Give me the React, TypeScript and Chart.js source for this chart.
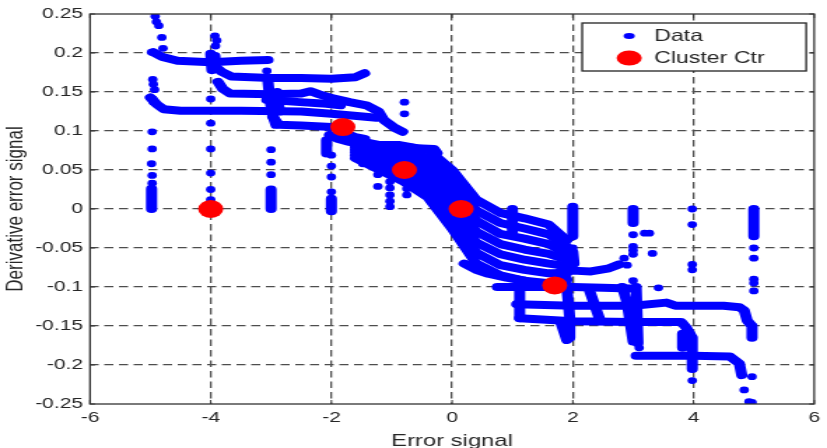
import React, { useEffect, useRef } from 'react';
import { Chart, registerables } from 'chart.js';

Chart.register(...registerables);

// The reference image is horizontally stretched; the chart is drawn at BASE_W and scaled to 827.
const PAGE_W = 827;
const PAGE_H = 448;
const BASE_W = 591;
const STRETCH = PAGE_W / BASE_W;

const xTickValues = [-6, -4, -2, 0, 2, 4, 6];
const xTickLabels = ['-6', '-4', '-2', '0', '2', '4', '6'];
const yTickValues = [-0.25, -0.2, -0.15, -0.1, -0.05, 0, 0.05, 0.1, 0.15, 0.2, 0.25];
const yTickLabels = ['-0.25', '-0.2', '-0.15', '-0.1', '-0.05', '0', '0.05', '0.1', '0.15', '0.2', '0.25'];

// Cluster centres
const clusterX = [-4.0, -1.81, -0.79, 0.15, 1.7];
const clusterY = [0.0, 0.105, 0.05, 0.0, -0.098];

type P = [number, number];

// Isolated data points
const isolatedDots: P[] = [
  [-4.92, 0.247], [-4.9, 0.24], [-4.86, 0.235], [-4.81, 0.22], [-4.79, 0.206], [-4.98, 0.201],
  [-4.96, 0.166], [-4.95, 0.16], [-4.93, 0.153], [-4.96, 0.141], [-4.95, 0.137],
  [-4.97, 0.099], [-4.97, 0.077], [-4.98, 0.058], [-4.97, 0.043], [-4.97, 0.033],
  [-3.93, 0.222], [-3.9, 0.216], [-3.92, 0.209], [-4.0, 0.141], [-4.0, 0.11], [-4.0, 0.077],
  [-4.0, 0.046], [-4.0, 0.025], [-4.0, 0.012],
  [-3.07, 0.177], [-3.0, 0.076], [-3.0, 0.06], [-3.0, 0.044],
  [-2.0, 0.069], [-2.0, 0.055], [-2.0, 0.041], [-2.0, 0.022],
  [-1.48, 0.069], [-1.48, 0.058], [-1.23, 0.044], [-1.23, 0.029],
  [-1.03, 0.035], [-1.03, 0.027], [-1.03, 0.018], [-1.03, 0.01], [-1.03, 0.003],
  [-0.75, 0.026], [-0.75, 0.018], [-0.79, 0.137], [-0.79, 0.122],
  [2.0, -0.05], [2.0, -0.058],
  [3.0, -0.033], [3.19, -0.031], [3.27, -0.031], [3.0, -0.048], [3.0, -0.053], [3.0, -0.058],
  [3.32, -0.057], [2.85, -0.063], [2.9, -0.072], [3.0, -0.092], [3.42, -0.101],
  [3.98, 0.0], [3.98, -0.02], [3.98, -0.071], [3.98, -0.078], [3.98, -0.22],
  [5.0, -0.05], [5.0, -0.063], [5.0, -0.09], [5.0, -0.095], [5.0, -0.105],
  [4.84, -0.232], [4.92, -0.247], [4.97, -0.215], [4.97, -0.248], [3.1, -0.178],
];

// Dense runs of points in the upper-left group
const upperRuns: P[][] = [
  [[-4.95, 0.201], [-4.8, 0.195], [-4.55, 0.19], [-4.0, 0.188], [-3.5, 0.19], [-3.05, 0.191]],
  [[-4.0, 0.199], [-3.98, 0.178]],
  [[-3.93, 0.196], [-3.92, 0.182]],
  [[-3.95, 0.184], [-3.82, 0.176], [-3.66, 0.17], [-3.0, 0.168], [-2.5, 0.168], [-2.0, 0.167], [-1.6, 0.169], [-1.45, 0.174]],
  [[-3.88, 0.163], [-3.8, 0.154], [-3.68, 0.148], [-3.0, 0.147], [-2.5, 0.148], [-2.35, 0.151], [-2.2, 0.147], [-2.03, 0.143], [-1.7, 0.137], [-1.42, 0.133], [-1.22, 0.125], [-1.13, 0.114], [-0.95, 0.104], [-0.82, 0.099]],
  [[-3.07, 0.14], [-2.52, 0.137], [-2.08, 0.135], [-1.85, 0.133]],
  [[-5.0, 0.143], [-4.89, 0.134], [-4.78, 0.128], [-4.5, 0.126], [-3.5, 0.126], [-2.5, 0.125], [-2.0, 0.122], [-1.53, 0.119], [-1.25, 0.117]],
  [[-2.97, 0.118], [-2.87, 0.108], [-2.5, 0.107], [-2.0, 0.105], [-1.75, 0.105]],
  [[-3.05, 0.163], [-3.02, 0.14], [-2.97, 0.12], [-2.92, 0.108]],
  [[-2.9, 0.15], [-2.86, 0.125]],
  [[-2.03, 0.095], [-1.9, 0.09], [-1.7, 0.086], [-1.42, 0.082], [-0.87, 0.082], [-0.59, 0.078], [-0.3, 0.077], [-0.25, 0.072]],
  [[-2.08, 0.088], [-2.08, 0.071]],
  [[-1.8, 0.098], [-1.6, 0.092], [-1.45, 0.09]],
];

// Dense diagonal band through the middle (runs from its upper to its lower edge)
const bandRuns: P[][] = [
  [[-1.6, 0.088], [-1.2, 0.082], [-0.8, 0.08], [-0.4, 0.076], [0.0, 0.05], [0.4, 0.012], [0.8, -0.005], [1.2, -0.012], [1.6, -0.02], [1.9, -0.04]],
  [[-1.6, 0.084], [-1.2, 0.0765], [-0.8, 0.0725], [-0.4, 0.066], [0.0, 0.0375], [0.4, -0.002], [0.8, -0.018], [1.2, -0.025], [1.6, -0.0325], [1.9, -0.048]],
  [[-1.6, 0.08], [-1.2, 0.071], [-0.8, 0.065], [-0.4, 0.056], [0.0, 0.025], [0.4, -0.015], [0.8, -0.032], [1.2, -0.038], [1.6, -0.045], [1.9, -0.057]],
  [[-1.6, 0.0765], [-1.2, 0.066], [-0.8, 0.0575], [-0.4, 0.0455], [0.0, 0.0125], [0.4, -0.029], [0.8, -0.045], [1.2, -0.052], [1.6, -0.0575], [1.9, -0.065]],
  [[-1.6, 0.073], [-1.2, 0.0605], [-0.8, 0.05], [-0.4, 0.035], [0.0, 0.0], [0.4, -0.043], [0.8, -0.058], [1.2, -0.065], [1.6, -0.07], [1.9, -0.073]],
  [[-1.6, 0.069], [-1.2, 0.055], [-0.8, 0.0425], [-0.4, 0.025], [0.0, -0.0125], [0.4, -0.056], [0.8, -0.072], [1.2, -0.078], [1.6, -0.0825], [1.9, -0.082]],
  [[-1.6, 0.065], [-1.2, 0.05], [-0.8, 0.035], [-0.4, 0.015], [0.0, -0.025], [0.4, -0.07], [0.8, -0.085], [1.2, -0.092], [1.6, -0.095], [1.9, -0.09]],
  [[0.2, -0.07], [0.4, -0.078], [0.6, -0.083], [0.9, -0.088], [1.2, -0.092]],
];

// Runs in the lower-right group
const lowerRuns: P[][] = [
  [[0.75, -0.1], [1.5, -0.1], [2.0, -0.1], [2.5, -0.101], [2.95, -0.102]],
  [[1.07, -0.122], [2.0, -0.124], [3.0, -0.124], [3.55, -0.12], [3.7, -0.124], [4.5, -0.124], [4.76, -0.126], [4.84, -0.13], [4.89, -0.143], [4.97, -0.15], [4.97, -0.165]],
  [[1.12, -0.14], [2.0, -0.144], [3.0, -0.145], [3.8, -0.145], [3.88, -0.152], [3.98, -0.165], [3.98, -0.205]],
  [[3.82, -0.16], [3.82, -0.178]],
  [[3.05, -0.188], [3.5, -0.188], [4.0, -0.188], [4.6, -0.189], [4.76, -0.198], [4.8, -0.213]],
  [[1.12, -0.1], [1.12, -0.14]],
  [[1.88, -0.085], [1.9, -0.1], [1.95, -0.14], [1.95, -0.165]],
  [[1.8, -0.145], [1.9, -0.168]],
  [[2.28, -0.105], [2.44, -0.14]],
  [[2.82, -0.1], [2.9, -0.12], [2.95, -0.145], [3.0, -0.17]],
  [[3.05, -0.1], [3.08, -0.172]],
  [[1.8, -0.08], [2.0, -0.079], [2.3, -0.08], [2.6, -0.076], [2.77, -0.071]],
];

// Vertical runs at constant error values
const columnRuns: P[][] = [
  [[-4.98, 0.026], [-4.98, 0.0]],
  [[-3.0, 0.025], [-3.0, 0.0]],
  [[-2.0, 0.013], [-2.0, -0.003]],
  [[1.0, 0.0], [1.0, -0.03]],
  [[2.0, 0.003], [2.0, -0.035]],
  [[2.0, -0.055], [2.02, -0.07]],
  [[3.0, 0.0], [3.0, -0.018]],
  [[5.0, 0.0], [5.0, -0.035]],
];

const BLUE = '#0000ff';
const RED = '#ff0000';
const TEXT = '#262626';
const GRID = '#4d4d4d';

const toPts = (arr: P[]) => arr.map(([x, y]) => ({ x, y }));

const boxPlugin = {
  id: 'matlabBox',
  afterDraw(chart: any) {
    const { ctx, chartArea } = chart;
    const { left, right, top, bottom } = chartArea;
    const xs = chart.scales.x;
    const ys = chart.scales.y;
    ctx.save();
    ctx.setLineDash([]);
    ctx.strokeStyle = '#333';
    ctx.lineWidth = 1.3;
    ctx.strokeRect(left, top, right - left, bottom - top);
    ctx.lineWidth = 1;
    ctx.beginPath();
    xTickValues.forEach((v) => {
      const px = xs.getPixelForValue(v);
      ctx.moveTo(px, bottom); ctx.lineTo(px, bottom - 4);
      ctx.moveTo(px, top); ctx.lineTo(px, top + 4);
    });
    yTickValues.forEach((v) => {
      const py = ys.getPixelForValue(v);
      ctx.moveTo(left, py); ctx.lineTo(left + 3.5, py);
      ctx.moveTo(right, py); ctx.lineTo(right - 3.5, py);
    });
    ctx.stroke();

    // legend box
    const lx0 = right - 165.8;
    const lx1 = right - 5.7;
    const ly0 = top + 9;
    const ly1 = top + 57;
    ctx.fillStyle = '#ffffff';
    ctx.fillRect(lx0, ly0, lx1 - lx0, ly1 - ly0);
    ctx.strokeStyle = '#222';
    ctx.lineWidth = 1.3;
    ctx.strokeRect(lx0, ly0, lx1 - lx0, ly1 - ly0);
    const mx = lx0 + 33.6;
    const tx = lx0 + 51.5;
    const r1 = ly0 + 13;
    const r2 = ly0 + 35;
    ctx.fillStyle = BLUE;
    ctx.beginPath(); ctx.ellipse(mx, r1, 4, 3, 0, 0, Math.PI * 2); ctx.fill();
    ctx.fillStyle = RED;
    ctx.beginPath(); ctx.ellipse(mx, r2, 9, 7.5, 0, 0, Math.PI * 2); ctx.fill();
    ctx.fillStyle = TEXT;
    ctx.font = "16.5px 'Liberation Sans', Arial, sans-serif";
    ctx.textAlign = 'left';
    ctx.textBaseline = 'middle';
    ctx.fillText(chart.data.datasets[1].label, tx, r1);
    ctx.fillText(chart.data.datasets[0].label, tx, r2);
    ctx.restore();
  },
};

export default function App() {
  const ref = useRef<HTMLCanvasElement | null>(null);

  useEffect(() => {
    if (!ref.current) return;
    Chart.defaults.font.family = "'Liberation Sans', Arial, sans-serif";
    const runs = [...upperRuns, ...bandRuns, ...lowerRuns, ...columnRuns];
    const gridColor = (c: any) =>
      c.index === 0 || c.index === (c.scale?.ticks?.length ?? 0) - 1 ? 'rgba(0,0,0,0)' : GRID;
    const chart = new Chart(ref.current, {
      type: 'scatter',
      data: {
        datasets: [
          {
            label: 'Cluster Ctr',
            data: clusterX.map((x, i) => ({ x, y: clusterY[i] })),
            pointRadius: 9,
            pointHoverRadius: 9,
            backgroundColor: RED,
            borderWidth: 0,
            order: 0,
          } as any,
          {
            label: 'Data',
            data: toPts(isolatedDots),
            pointRadius: 3.4,
            pointHoverRadius: 3.4,
            backgroundColor: BLUE,
            borderWidth: 0,
            order: 1,
          } as any,
          ...runs.map((r) => ({
            label: 'Data',
            data: toPts(r),
            showLine: true,
            borderColor: BLUE,
            borderWidth: 8,
            borderCapStyle: 'round',
            borderJoinStyle: 'round',
            pointRadius: 0,
            pointHoverRadius: 0,
            tension: 0,
            fill: false,
            order: 2,
          } as any)),
        ],
      },
      options: {
        animation: false,
        responsive: true,
        maintainAspectRatio: false,
        devicePixelRatio: 1,
        events: [],
        layout: { padding: { left: 0, right: BASE_W - 815 / STRETCH, top: 11, bottom: 0 } },
        plugins: { legend: { display: false }, tooltip: { enabled: false }, title: { display: false } },
        scales: {
          x: {
            type: 'linear',
            min: -6,
            max: 6,
            afterBuildTicks: (s: any) => { s.ticks = xTickValues.map((v) => ({ value: v })); },
            afterFit: (s: any) => { s.height = 44; },
            ticks: {
              autoSkip: false,
              maxRotation: 0,
              padding: 5,
              color: TEXT,
              font: { size: 15 },
              callback: (_v: any, i: number) => xTickLabels[i],
            },
            grid: { color: gridColor, lineWidth: 1.3, drawTicks: false },
            border: { display: false, dash: [6.5, 4] },
            title: { display: true, text: 'Error signal', color: TEXT, font: { size: 17, lineHeight: 0.82 }, padding: 0 },
          },
          y: {
            type: 'linear',
            min: -0.25,
            max: 0.25,
            afterBuildTicks: (s: any) => { s.ticks = yTickValues.map((v) => ({ value: v })); },
            afterFit: (s: any) => { s.width = 90 / STRETCH; },
            ticks: {
              autoSkip: false,
              padding: 5,
              color: TEXT,
              font: { size: 15 },
              callback: (_v: any, i: number) => yTickLabels[i],
            },
            grid: { color: gridColor, lineWidth: 1.3, drawTicks: false },
            border: { display: false, dash: [6.5, 4] },
            title: { display: true, text: 'Derivative error signal', color: TEXT, font: { size: 17 }, padding: { top: 1, bottom: 0 } },
          },
        },
      } as any,
      plugins: [boxPlugin],
    });
    return () => chart.destroy();
  }, []);

  return (
    <div style={{ position: 'fixed', left: 0, top: 0, width: PAGE_W, height: PAGE_H, overflow: 'hidden', background: '#fff' }}>
      <div style={{ position: 'relative', width: BASE_W, height: PAGE_H, transform: `scaleX(${STRETCH})`, transformOrigin: '0 0' }}>
        <canvas ref={ref} />
      </div>
    </div>
  );
}
